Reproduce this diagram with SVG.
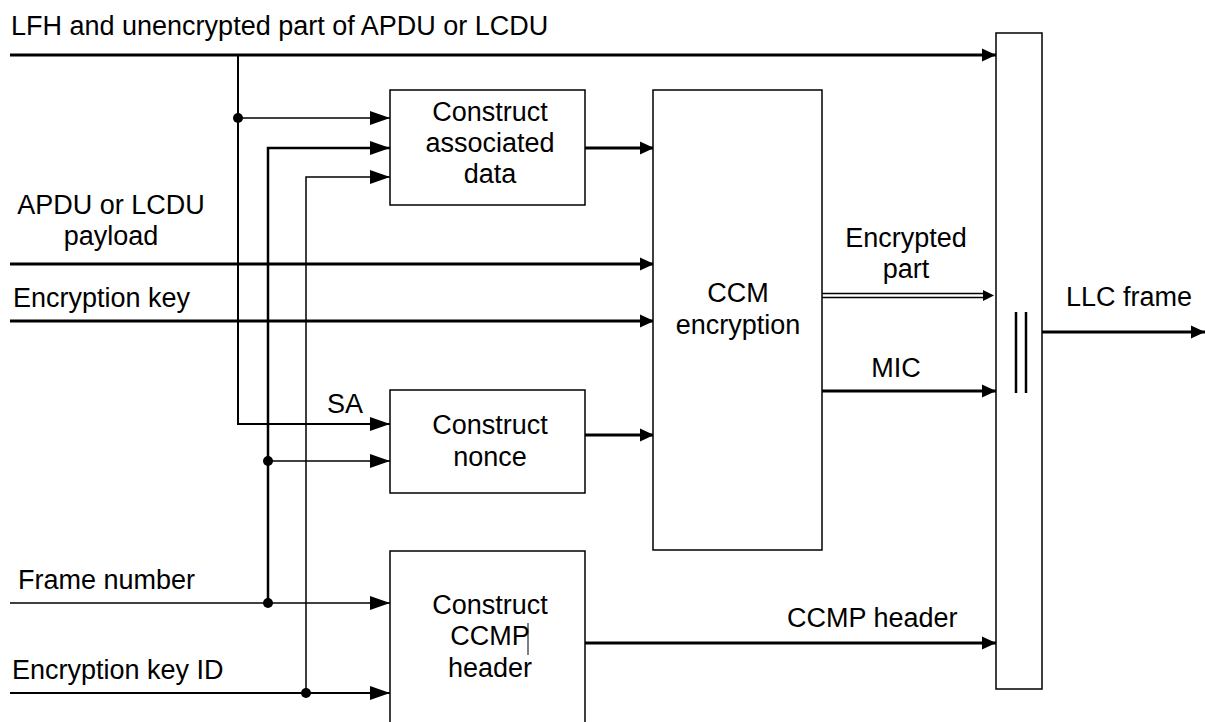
<svg xmlns="http://www.w3.org/2000/svg" width="1205" height="722" viewBox="0 0 1205 722">
<style>
text{font-family:"Liberation Sans",Arial,sans-serif;font-size:27px;fill:#000}
.c{text-anchor:middle}
.box{fill:#fff;stroke:#000;stroke-width:1.5}
.w1{fill:none;stroke:#000;stroke-width:1.5}
.w2{fill:none;stroke:#000;stroke-width:2}
.w25{fill:none;stroke:#000;stroke-width:2.5}
.w3{fill:none;stroke:#000;stroke-width:3}
</style>
<defs>
<marker id="aL" markerUnits="userSpaceOnUse" markerWidth="20" markerHeight="14" refX="20" refY="7" orient="auto" overflow="visible"><path d="M0,0 L20,7 L0,14 Z" fill="#000"/></marker>
<marker id="aS" markerUnits="userSpaceOnUse" markerWidth="14" markerHeight="13" refX="14" refY="6.5" orient="auto" overflow="visible"><path d="M0,0 L14,6.5 L0,13 Z" fill="#000"/></marker>
</defs>

<g id="connectors">
<path class="w3" d="M10,55 H996" marker-end="url(#aS)"/>
<path class="w2" d="M238,55 V424 H390" marker-end="url(#aL)"/>
<path class="w1" d="M238,118 H390" marker-end="url(#aL)"/>
<path class="w25" d="M268,603 V148 H390" marker-end="url(#aL)"/>
<path class="w1" d="M268,461 H390" marker-end="url(#aL)"/>
<path class="w1" d="M10,603 H390" marker-end="url(#aL)"/>
<path class="w1" d="M306,693 V177 H390" marker-end="url(#aL)"/>
<path class="w2" d="M10,693 H390" marker-end="url(#aL)"/>
<path class="w3" d="M10,264 H654" marker-end="url(#aS)"/>
<path class="w3" d="M10,321 H654" marker-end="url(#aS)"/>
<path class="w3" d="M585,148 H654" marker-end="url(#aS)"/>
<path class="w3" d="M585,435 H654" marker-end="url(#aS)"/>
<path class="w1" d="M822,293.5 H988 M822,297.5 H988"/>
<path d="M983,290 L994,295.5 L983,301 Z" fill="#000"/>
<path class="w3" d="M822,391 H996" marker-end="url(#aS)"/>
<path class="w3" d="M585,643 H996" marker-end="url(#aS)"/>
<path class="w3" d="M1042,332 H1205" marker-end="url(#aS)"/>
<circle cx="238" cy="118" r="5" fill="#000"/>
<circle cx="268" cy="461" r="5" fill="#000"/>
<circle cx="268" cy="603" r="5" fill="#000"/>
<circle cx="306" cy="693" r="5" fill="#000"/>
</g>

<g id="labels">
<text x="11" y="35">LFH and unencrypted part of APDU or LCDU</text>
<text class="c" x="111" y="214">APDU or LCDU</text>
<text class="c" x="111" y="245">payload</text>
<text x="13" y="307">Encryption key</text>
<text x="327" y="413">SA</text>
<text x="18" y="589">Frame number</text>
<text x="12" y="679">Encryption key ID</text>
<text class="c" x="906" y="247">Encrypted</text>
<text class="c" x="906" y="278">part</text>
<text class="c" x="896" y="377">MIC</text>
<text x="787" y="627">CCMP header</text>
<text x="1066" y="306">LLC frame</text>
</g>

<g id="assoc">
<rect class="box" x="390" y="90" width="195" height="115"/>
<text class="c" x="490" y="121">Construct</text>
<text class="c" x="490" y="152">associated</text>
<text class="c" x="490" y="183">data</text>
</g>

<g id="nonce">
<rect class="box" x="390" y="390" width="195" height="103"/>
<text class="c" x="490" y="434">Construct</text>
<text class="c" x="490" y="466">nonce</text>
</g>

<g id="ccmp">
<rect class="box" x="390" y="551" width="195" height="180"/>
<text class="c" x="490" y="614">Construct</text>
<text class="c" x="490" y="645">CCMP</text>
<text class="c" x="490" y="677">header</text>
<line x1="528" y1="623" x2="528" y2="655" stroke="#000" stroke-width="1"/>
</g>

<g id="ccm">
<rect class="box" x="653" y="90" width="169" height="460"/>
<text class="c" x="738" y="302">CCM</text>
<text class="c" x="738" y="334">encryption</text>
</g>

<g id="bar">
<rect class="box" x="996" y="33" width="46" height="656"/>
<line x1="1016" y1="312" x2="1016" y2="393" stroke="#000" stroke-width="2.5"/>
<line x1="1026" y1="312" x2="1026" y2="393" stroke="#000" stroke-width="2.5"/>
</g>
</svg>
